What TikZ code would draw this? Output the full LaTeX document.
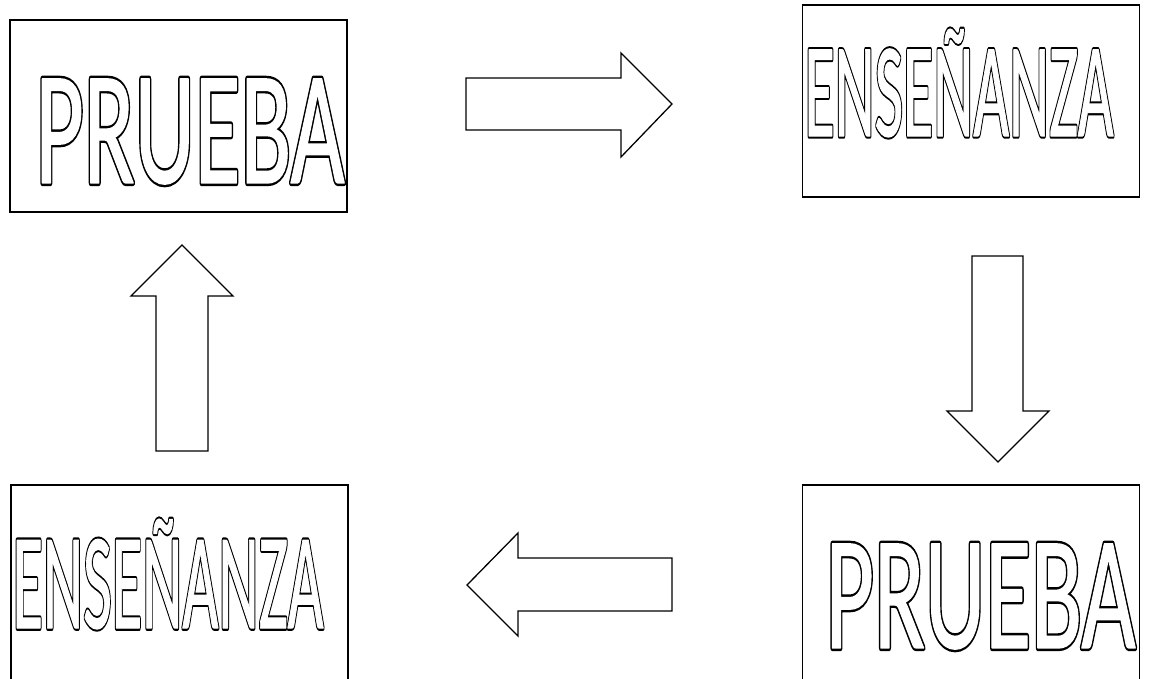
\documentclass[tikz,border=0pt]{standalone}
\usepackage{fontspec}
\setmainfont{Carlito}
\usepackage{graphicx}

% tube lettering: a black stroke, then a thinner white stroke and fill on top
\newcommand\tubetext[1]{%
  \special{pdf:literal direct q 2 Tr 1 j 1 J 0 g 0 G 4.0 w}\rlap{#1}\special{pdf:literal direct Q}%
  \special{pdf:literal direct q 2 Tr 1 j 1 J 1 g 1 G 1.0 w}#1\special{pdf:literal direct Q}}

\tikzset{
  panel/.style={draw=black, line width=1.6pt, fill=none, inner sep=0pt, minimum width=337pt},
  word/.style={inner sep=0pt, outer sep=0pt},
  blockarrow/.style={draw=black, line width=1.3pt, line join=miter, fill=white},
}

\begin{document}
\begin{tikzpicture}[x=1pt, y=-1pt]
\useasboundingbox (0,0) rectangle (1151,678);
\begin{scope}
\clip (0,0) rectangle (1151,678);
% panels; the lower two run on past the bottom edge
\node (p1) [panel, minimum height=192pt] at (178.5,116) {};
\node (p2) [panel, minimum height=192pt] at (971,101) {};
\node (p3) [panel, minimum height=215pt] at (179.5,592.5) {};
\node (p4) [panel, minimum height=215pt] at (971,592.5) {};
\end{scope}

% words
\node (w1) [word] at (190,131.5) {\resizebox{309pt}{104pt}{\fontsize{100pt}{100pt}\selectfont\tubetext{PRUEBA}}};
\node (w2) [word] at (959,83) {\resizebox{309pt}{107pt}{\fontsize{100pt}{100pt}\selectfont\tubetext{ENSEÑANZA}}};
\node (w3) [word] at (168,574) {\resizebox{311pt}{109pt}{\fontsize{100pt}{100pt}\selectfont\tubetext{ENSEÑANZA}}};
\node (w4) [word] at (980.5,596.5) {\resizebox{310pt}{104pt}{\fontsize{100pt}{100pt}\selectfont\tubetext{PRUEBA}}};

% block arrows of the cycle
\draw[blockarrow] (466,78) -- (621,78) -- (621,53) -- (672,104) -- (621,157) -- (621,130) -- (466,130) -- cycle;
\draw[blockarrow] (972,256) -- (1023,256) -- (1023,411) -- (1049,411) -- (998,462) -- (947,411) -- (972,411) -- cycle;
\draw[blockarrow] (672,558) -- (518,558) -- (518,533) -- (467,585) -- (518,636) -- (518,611) -- (672,611) -- cycle;
\draw[blockarrow] (156,451) -- (156,296) -- (131,296) -- (182,245) -- (233,296) -- (208,296) -- (208,451) -- cycle;
\end{tikzpicture}
\end{document}
